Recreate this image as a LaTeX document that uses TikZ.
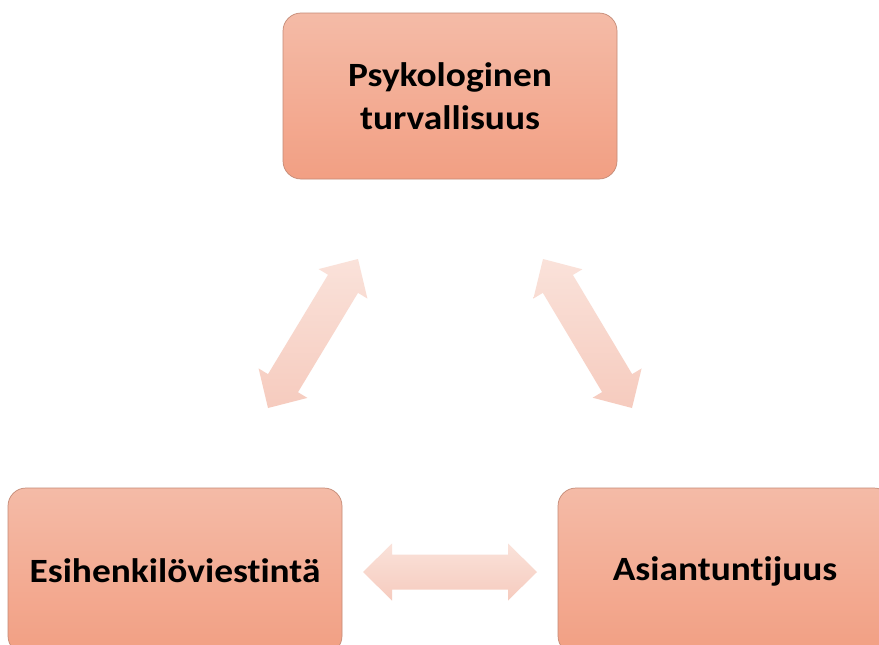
\documentclass[tikz,border=0pt]{standalone}
\usepackage{fontspec}
\setmainfont{Carlito}[FakeStretch=1.1, Ligatures=NoCommon, RawFeature={-liga}]
\usetikzlibrary{calc}
\definecolor{boxtop}{HTML}{F4BBA7}
\definecolor{boxbot}{HTML}{F29F83}
\definecolor{boxline}{HTML}{C48A76}
\definecolor{arrtop}{HTML}{FAE2DA}
\definecolor{arrbot}{HTML}{F6CBBE}
\tikzset{
  box/.style={draw=boxline, line width=0.7pt, rounded corners=18pt,
    top color=boxtop, bottom color=boxbot, align=center,
    font=\fontsize{34}{43}\selectfont\bfseries, text=black},
  arrowfill/.style={top color=arrtop, bottom color=arrbot, draw=none}
}
\newcommand{\dblarr}[2]{%
  \path ($(#1)!29pt!(#2)$) coordinate (h1) ($(#2)!29pt!(#1)$) coordinate (h2);
  \path[arrowfill] (#1) -- ($(h1)!28.5pt!90:(#2)$) -- ($(h1)!17.5pt!90:(#2)$)
    -- ($(h2)!17.5pt!-90:(#1)$) -- ($(h2)!28.5pt!-90:(#1)$) -- (#2)
    -- ($(h2)!28.5pt!90:(#1)$) -- ($(h2)!17.5pt!90:(#1)$)
    -- ($(h1)!17.5pt!-90:(#2)$) -- ($(h1)!28.5pt!-90:(#2)$) -- cycle;}
\begin{document}
\begin{tikzpicture}[x=1pt,y=-1pt]
\useasboundingbox (0,0) rectangle (879,645);
\clip (0,0) rectangle (879,645);
\fill[white] (0,0) rectangle (879,645);
\node[box, minimum width=334pt, minimum height=166pt] (psy) at (450,96) {Psykologinen\\turvallisuus};
\node[box, minimum width=334pt, minimum height=166pt] (esi) at (175,571) {Esihenkilöviestintä};
\node[box, minimum width=334pt, minimum height=166pt] (asi) at (725,571) {Asiantuntijuus};
\coordinate (la) at (268,408);
\coordinate (lb) at (358,259);
\coordinate (ra) at (543,259);
\coordinate (rb) at (632,408);
\coordinate (ha) at (363,572);
\coordinate (hb) at (537,572);
\dblarr{la}{lb}
\dblarr{ra}{rb}
\dblarr{ha}{hb}
\end{tikzpicture}
\end{document}
